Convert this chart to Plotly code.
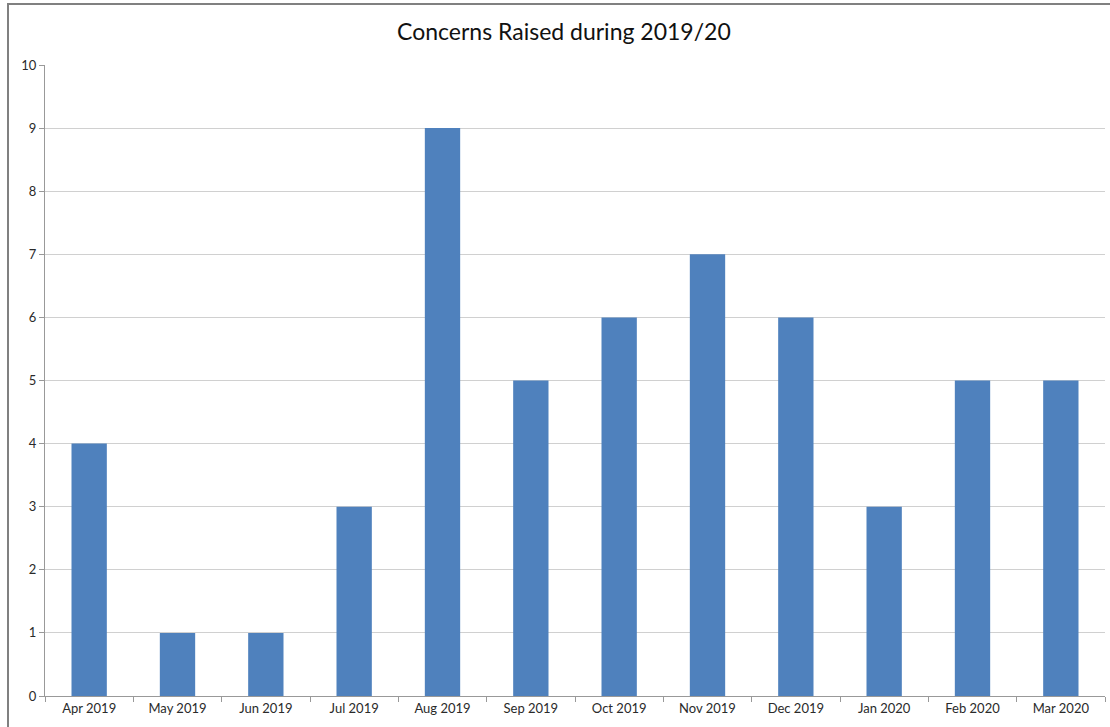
import plotly.graph_objects as go

months = ["Apr 2019", "May 2019", "Jun 2019", "Jul 2019", "Aug 2019", "Sep 2019",
          "Oct 2019", "Nov 2019", "Dec 2019", "Jan 2020", "Feb 2020", "Mar 2020"]
concerns = [4, 1, 1, 3, 9, 5, 6, 7, 6, 3, 5, 5]
y_ticks = list(range(0, 11))

fig = go.Figure(go.Bar(x=months, y=concerns, marker=dict(color="#4F81BD", line=dict(width=0))))

fig.update_layout(
    width=1110, height=727,
    margin=dict(l=45, r=5, t=65, b=31),
    paper_bgcolor="white", plot_bgcolor="white",
    bargap=0.6,
    showlegend=False,
    font=dict(family="Lato, Open Sans, sans-serif", color="#404040", size=13),
    title=dict(text="Concerns Raised during 2019/20", x=0.508, xanchor="center",
               y=0.956, yanchor="middle", font=dict(size=23, color="#111111")),
    xaxis=dict(type="category", tickson="boundaries", ticks="outside", ticklen=5,
               tickcolor="#999999", showline=True, linecolor="#999999", linewidth=1,
               showgrid=False, tickfont=dict(size=13, color="#2a2a2a")),
    yaxis=dict(range=[0, 10], tickvals=y_ticks, ticks="outside", ticklen=5,
               tickcolor="#999999", showline=True, linecolor="#999999", linewidth=1,
               showgrid=True, gridcolor="#d0d0d0", gridwidth=1, zeroline=False,
               tickfont=dict(size=13, color="#2a2a2a")),
    shapes=[dict(type="rect", xref="paper", yref="paper",
                 x0=-0.0349, x1=1.05, y0=-0.2, y1=1.0967,
                 line=dict(color="#808080", width=2), fillcolor="rgba(0,0,0,0)", layer="above")],
)

fig.write_html("out.html")
